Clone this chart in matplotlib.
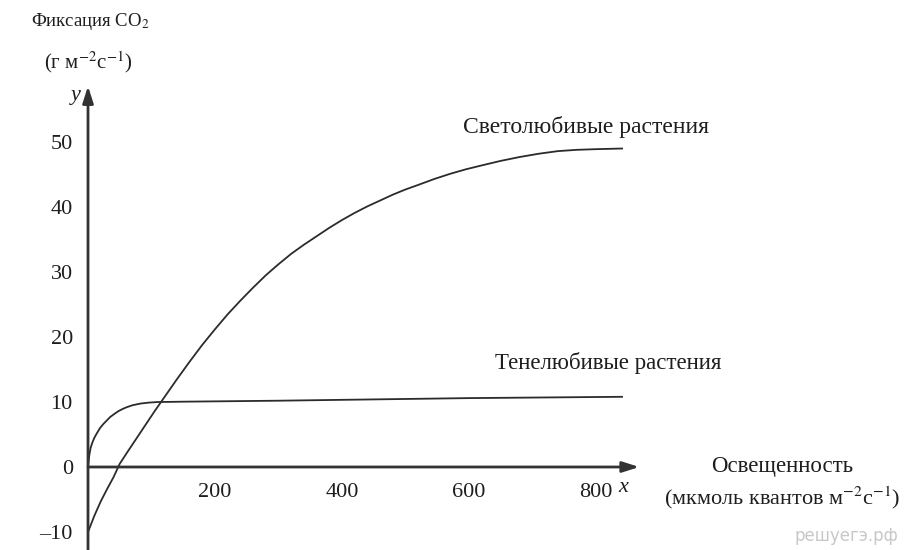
import matplotlib.pyplot as plt

plt.rcParams['font.family'] = ['Liberation Serif', 'DejaVu Serif']
plt.rcParams['mathtext.fontset'] = 'stix'

# светолюбивые растения
light_x = [0, 10, 20, 30, 40, 50, 60, 75, 90, 105, 120, 140, 160, 180, 200, 220, 240, 260,
           280, 300, 320, 340, 360, 380, 400, 420, 440, 460, 480, 500, 520, 545, 570, 595,
           620, 650, 680, 710, 740, 770, 800, 841]
light_y = [-10, -7.5, -5.3, -3.4, -1.6, 0.5, 2.0, 4.2, 6.4, 8.6, 10.7, 13.5, 16.2, 18.8, 21.2,
           23.5, 25.6, 27.6, 29.5, 31.2, 32.8, 34.2, 35.5, 36.8, 38.0, 39.1, 40.1, 41.0, 41.9,
           42.7, 43.4, 44.3, 45.1, 45.8, 46.4, 47.1, 47.7, 48.2, 48.6, 48.8, 48.9, 49.0]

# тенелюбивые растения
shade_x = [0, 2, 4, 7, 10, 14, 19, 24, 30, 35, 42, 48, 55, 61, 70, 82, 95, 110, 130, 150,
           300, 450, 600, 841]
shade_y = [0, 1.8, 2.9, 3.8, 4.5, 5.2, 6.0, 6.6, 7.2, 7.7, 8.2, 8.6, 8.95, 9.2, 9.5, 9.75,
           9.9, 10.0, 10.02, 10.05, 10.2, 10.4, 10.6, 10.8]

x_ticks = [200, 400, 600, 800]
y_ticks = [50, 40, 30, 20, 10, 0, -10]

ink = '#2b2b2b'
txt = '#1e1e1e'

fig = plt.figure(figsize=(9.13, 5.5), dpi=100)
ax = fig.add_axes([0, 0, 1, 1])
ax.set_xlim(-138.6, 1299.2)
ax.set_ylim(-12.77, 71.85)
ax.axis('off')

# оси со стрелками
arrow = dict(arrowstyle='-|>,head_length=1.0,head_width=0.32', lw=2, color='#333',
             shrinkA=0, shrinkB=0)
ax.annotate('', xy=(868, 0), xytext=(0, 0), arrowprops=arrow)
ax.annotate('', xy=(0, 58.6), xytext=(0, -12.8), arrowprops=arrow)

ax.plot(light_x, light_y, color=ink, lw=1.3)
ax.plot(shade_x, shade_y, color=ink, lw=1.3)

fs = 16
for t in x_ticks:
    ax.text(t, -3.9, str(t), ha='center', va='center', fontsize=fs, color=txt)
for t in y_ticks:
    lab = str(t).replace('-', '\u2013')
    ax.text(-24, t - 0.4, lab, ha='right', va='center', fontsize=fs, color=txt)

ax.text(843, -3.1, 'x', style='italic', ha='center', va='center', fontsize=fs, color=txt)
ax.text(-20, 57.2, 'y', style='italic', ha='center', va='center', fontsize=fs, color=txt)

ax.text(3, 68.5, 'Фиксация CO$_2$', ha='center', va='center', fontsize=13.5, color=txt)
ax.text(0, 62.3, '(г м$^{-2}$с$^{-1}$)', ha='center', va='center', fontsize=15, color=txt)

ax.text(784, 52.3, 'Светолюбивые растения', ha='center', va='center', fontsize=17, color=txt)
ax.text(819, 16.0, 'Тенелюбивые растения', ha='center', va='center', fontsize=16.5, color=txt)

ax.text(1093, 0.0, 'Освещенность', ha='center', va='center', fontsize=16.5, color=txt)
ax.text(1094, -4.8, '(мкмоль квантов м$^{-2}$с$^{-1}$)', ha='center', va='center',
        fontsize=16, color=txt)

ax.text(1195, -10.6, 'решуегэ.рф', ha='center', va='center', fontsize=12,
        color='#c8c8c8', family='DejaVu Sans')

fig.savefig('out.png', dpi=100)
